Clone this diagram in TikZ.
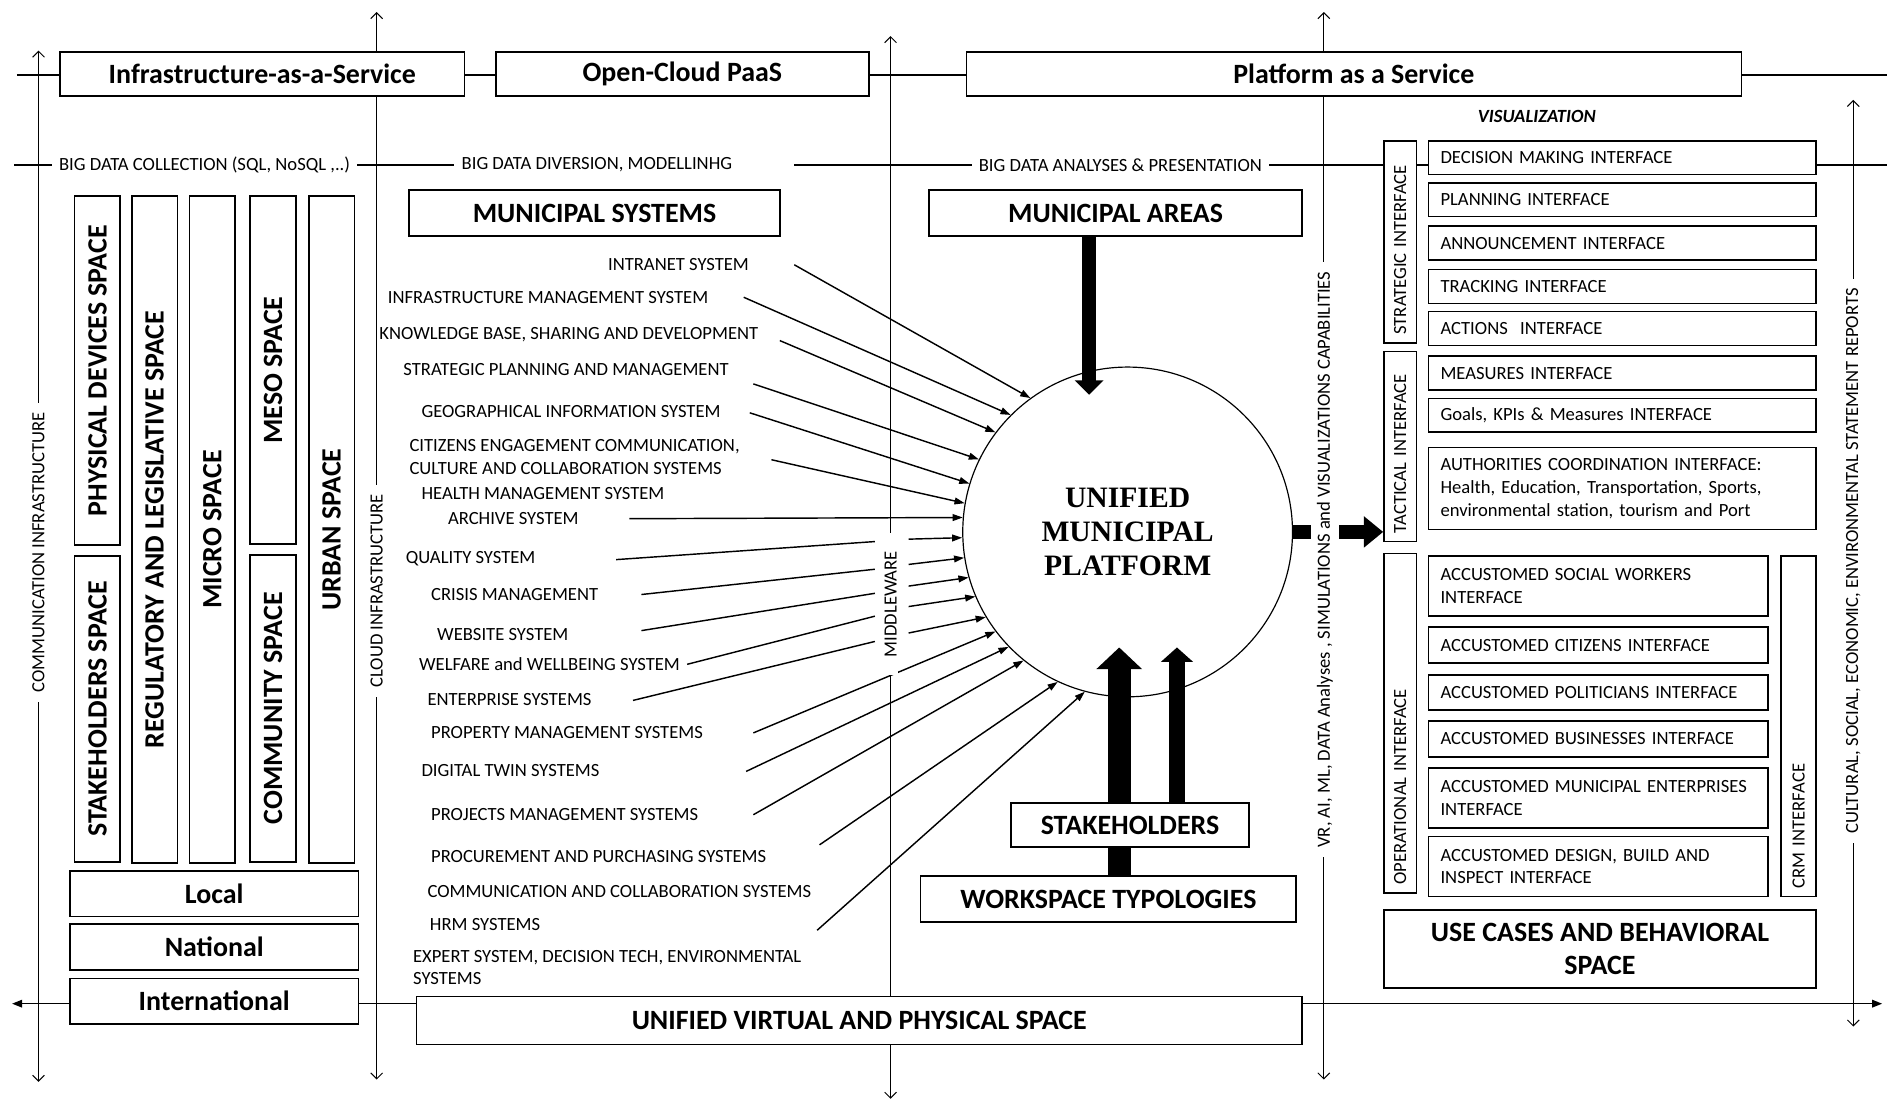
\documentclass[tikz,border=0pt]{standalone}
\usepackage{fontspec}
\setmainfont{Carlito}
\newfontfamily\platfont{Liberation Serif}
\usetikzlibrary{arrows.meta}

\def\pxu{0.025cm}
\newcommand{\bigtxt}{\fontsize{16.5}{20}\selectfont\bfseries}
\newcommand{\smalltxt}{\fontsize{11}{13.5}\selectfont}

\tikzstyle{axis}=[line width=0.6pt, {Straight Barb[length=3.5pt,width=7pt]}-{Straight Barb[length=3.5pt,width=7pt]}]
\tikzstyle{rail}=[line width=1.1pt]
\tikzstyle{bigbox}=[draw, line width=1pt, fill=white, inner sep=0pt, font=\bigtxt, align=center]
\tikzstyle{ibox}=[draw, line width=0.9pt, fill=white, inner xsep=10*\pxu, inner ysep=0pt, font=\smalltxt, align=left]
\tikzstyle{gbox}=[draw, line width=0.9pt, fill=white, rotate=90, inner xsep=7*\pxu, inner ysep=0pt, font=\smalltxt, align=left]
\tikzstyle{lbl}=[inner sep=0pt, font=\smalltxt, anchor=west, align=left]
\tikzstyle{rowlbl}=[fill=white, inner xsep=6*\pxu, inner ysep=1pt, font=\smalltxt]
\tikzstyle{axlbl}=[fill=white, rotate=90, inner xsep=8*\pxu, inner ysep=1pt, font=\smalltxt]
\tikzstyle{sys}=[line width=0.85pt, -{Triangle[length=6pt,width=4pt]}]
\tikzstyle{sysline}=[line width=0.85pt]
\tikzstyle{thickA}=[line width=8.5pt, -{Triangle[length=8.5pt,width=16.5pt]}]
\tikzstyle{thickW}=[line width=13.5pt, -{Triangle[length=12.8pt,width=26.3pt]}]
\tikzstyle{thickS}=[line width=9.2pt, -{Triangle[length=8.5pt,width=18.5pt]}]
\tikzstyle{thickV}=[line width=8.5pt, -{Triangle[length=11.4pt,width=17.8pt]}]

\begin{document}
\begin{tikzpicture}[x=\pxu, y=-\pxu]

\path[fill=white, use as bounding box] (0,0) rectangle (1568,917);

% frame lines
\draw[rail] (14,62) -- (1568,62);
\draw[rail] (12,137) -- (614,137) (660,137) -- (1568,137);
\draw[axis] (32,42) -- (32,899);
\draw[axis] (313,10) -- (313,897);
\draw[axis] (740,30) -- (740,913);
\draw[axis] (1100,10) -- (1100,897);
\draw[axis] (1540,83) -- (1540,853);
\draw[line width=0.9pt, {Triangle[length=6pt,width=4.5pt]}-{Triangle[length=6pt,width=4.5pt]}] (10,834) -- (1564,834);

\node[bigbox, minimum width=336*\pxu, minimum height=37*\pxu] (iaas) at (218,61.5) {Infrastructure-as-a-Service};
\node[bigbox, minimum width=310*\pxu, minimum height=37*\pxu] (ocp) at (567,61.5) {Open-Cloud PaaS};
\node[bigbox, minimum width=644*\pxu, minimum height=37*\pxu] (paas) at (1125,61.5) {Platform as a Service};

\node[rowlbl] (bdc) at (170,137) {BIG DATA COLLECTION (SQL, NoSQL ,..)};
\node[rowlbl] (bdd) at (496,137) {BIG DATA DIVERSION, MODELLINHG};
\node[rowlbl] (bda) at (931,137) {BIG DATA ANALYSES \& PRESENTATION};

\foreach \nm/\x/\yc/\h/\txt in {pds/81/308/290/{PHYSICAL DEVICES SPACE}, sks/81/589/254/{STAKEHOLDERS SPACE},
  rls/128.5/440/554/{REGULATORY AND LEGISLATIVE SPACE}, mic/176.5/440/554/{MICRO SPACE},
  mes/227/307.5/289/{MESO SPACE}, com/227/588.5/255/{COMMUNITY SPACE}, urb/275.5/440/554/{URBAN SPACE}}{
  \node[bigbox, rotate=90, minimum width=\h*\pxu, minimum height=38*\pxu] (\nm) at (\x,\yc) {\txt};
}
\foreach \nm/\yc/\txt in {loc/742.5/Local, nat/787/National, int/832/International}{
  \node[bigbox, minimum width=240*\pxu, minimum height=38*\pxu] (\nm) at (178,\yc) {\txt};
}
\node[bigbox, minimum width=736*\pxu, minimum height=40*\pxu] (uvps) at (714,848) {UNIFIED VIRTUAL AND PHYSICAL SPACE};

\node[bigbox, minimum width=308*\pxu, minimum height=38*\pxu] (ms) at (494,177) {MUNICIPAL SYSTEMS};
\node[bigbox, minimum width=310*\pxu, minimum height=38*\pxu] (ma) at (927,177) {MUNICIPAL AREAS};

\node[draw, circle, line width=0.7pt, fill=white, minimum size=274*\pxu, inner sep=0pt, align=center,
  font=\platfont\fontsize{17.5}{20}\selectfont\bfseries] (circ) at (937,442) {UNIFIED\\MUNICIPAL\\PLATFORM};

\foreach \nm/\x/\y/\txt in {l1/505/220/{INTRANET SYSTEM}, l2/322/247/{INFRASTRUCTURE MANAGEMENT SYSTEM},
  l3/315/278/{KNOWLEDGE BASE, SHARING AND DEVELOPMENT}, l4/335/307/{STRATEGIC PLANNING AND MANAGEMENT},
  l5/350/342/{GEOGRAPHICAL INFORMATION SYSTEM}, l6/340/379.5/{CITIZENS ENGAGEMENT COMMUNICATION,\\ CULTURE AND COLLABORATION SYSTEMS},
  l7/350/410/{HEALTH MANAGEMENT SYSTEM}, l8/372/431/{ARCHIVE SYSTEM}, l9/337/464/{QUALITY SYSTEM},
  l10/358/494/{CRISIS MANAGEMENT}, l11/363/527/{WEBSITE SYSTEM}, l12/348/552/{WELFARE and WELLBEING SYSTEM},
  l13/355/581/{ENTERPRISE SYSTEMS}, l14/358/609/{PROPERTY MANAGEMENT SYSTEMS}, l15/350/640/{DIGITAL TWIN SYSTEMS},
  l16/358/677/{PROJECTS MANAGEMENT SYSTEMS}, l17/358/712/{PROCUREMENT AND PURCHASING SYSTEMS},
  l18/355/741/{COMMUNICATION AND COLLABORATION SYSTEMS}, l19/357/768/{HRM SYSTEMS},
  l20/343/804/{EXPERT SYSTEM, DECISION TECH, ENVIRONMENTAL\\SYSTEMS}}{
  \node[lbl] (\nm) at (\x,\y) {\txt};
}

\foreach \nm/\x/\y in {t1/660/220, t2/618/247, t3/648/283, t4/626/319, t5/623/343, t6/641/382, t7/523/431,
  q1/512/465, q2/533/494, q3/533/524, q4/571/552, q5/526/582,
  m1/727/450, m2/727/473, m3/727/493, m4/727/512, m5/727/533,
  s1/755/448, s2/755/469, s3/755/487, s4/755/504, s5/755/526,
  t14/626/609, t15/620/641, t16/626/677, t17/681/702, t19/679/773}{
  \coordinate (\nm) at (\x,\y);
}
\foreach \tl/\a in {t1/126, t2/135, t3/143, t4/154, t5/163, t6/170, t7/175, s1/182, s2/189, s3/196, s4/203, s5/211,
  t14/217, t15/224, t16/231, t17/245, t19/255}{
  \draw[sys] (\tl) -- (circ.\a);
}
\foreach \a/\b in {q1/m1, q2/m2, q3/m3, q4/m4, q5/m5}{
  \draw[sysline] (\a) -- (\b);
}

\coordinate (maTip) at (905,328);
\draw[thickA] (ma.south -| maTip) -- (maTip);

\node[bigbox, minimum width=312*\pxu, minimum height=38*\pxu] (wt) at (921,747) {WORKSPACE TYPOLOGIES};
\coordinate (wtTip) at (930,538);
\draw[thickW] (wt.north -| wtTip) -- (wtTip);
\node[bigbox, minimum width=198*\pxu, minimum height=37*\pxu] (sh) at (939,685.5) {STAKEHOLDERS};
\coordinate (shTip) at (978,538);
\draw[thickS] (sh.north -| shTip) -- (shTip);

\node[font=\smalltxt\bfseries\itshape] (vis) at (1277,97) {VISUALIZATION};

\foreach \nm/\x/\yc/\h/\w/\txt in {strat/1163.5/201/168/27/{STRATEGIC INTERFACE}, tact/1163.5/371/158/27/{TACTICAL INTERFACE},
  oper/1163.5/601/282/27/{OPERATIONAL INTERFACE}, crm/1494.5/603.5/283/29/{CRM INTERFACE}}{
  \node[gbox, text width=(\h-14)*\pxu, minimum height=\w*\pxu] (\nm) at (\x,\yc) {\txt};
}
\foreach \nm/\yc/\h/\txt in {dmi/131/28/{DECISION MAKING INTERFACE}, pli/166/28/{PLANNING INTERFACE},
  ani/202/28/{ANNOUNCEMENT INTERFACE}, tri/238/28/{TRACKING INTERFACE}, aci/273/28/{ACTIONS\ \ INTERFACE},
  mei/310/28/{MEASURES INTERFACE}, gki/345/28/{Goals, KPIs \& Measures INTERFACE},
  aui/406/68/{AUTHORITIES COORDINATION INTERFACE:\\Health, Education, Transportation, Sports,\\environmental station, tourism and Port}}{
  \node[ibox, text width=302*\pxu, minimum height=\h*\pxu] (\nm) at (1348,\yc) {\txt};
}
\foreach \nm/\yc/\h/\txt in {socw/487/50/{ACCUSTOMED SOCIAL WORKERS\\INTERFACE}, citz/536/30/{ACCUSTOMED CITIZENS INTERFACE},
  polt/575.5/29/{ACCUSTOMED POLITICIANS INTERFACE}, busn/614/30/{ACCUSTOMED BUSINESSES INTERFACE},
  menp/663/50/{ACCUSTOMED MUNICIPAL ENTERPRISES\\INTERFACE}, dbin/720/50/{ACCUSTOMED DESIGN, BUILD AND\\INSPECT INTERFACE}}{
  \node[ibox, text width=262*\pxu, minimum height=\h*\pxu] (\nm) at (1328,\yc) {\txt};
}
\node[bigbox, minimum width=359*\pxu, minimum height=65*\pxu] (ucb) at (1329.5,788.5) {USE CASES AND BEHAVIORAL\\SPACE};

\draw[thickV] (circ.east) -- (tact.north |- circ.east);

\node[axlbl] (comi) at (32,459) {COMMUNICATION INFRASTRUCTURE};
\node[axlbl] (clin) at (313,491) {CLOUD INFRASTRUCTURE};
\node[axlbl, inner xsep=15*\pxu] (mdw) at (740,502) {MIDDLEWARE};
\node[axlbl, inner ysep=5*\pxu] (vrai) at (1101,465) {VR, AI, ML, DATA Analyses , SIMULATIONS and VISUALIZATIONS CAPABILITIES};
\node[axlbl] (cser) at (1540,466) {CULTURAL, SOCIAL, ECONOMIC, ENVIRONMENTAL STATEMENT REPORTS};

\end{tikzpicture}
\end{document}
